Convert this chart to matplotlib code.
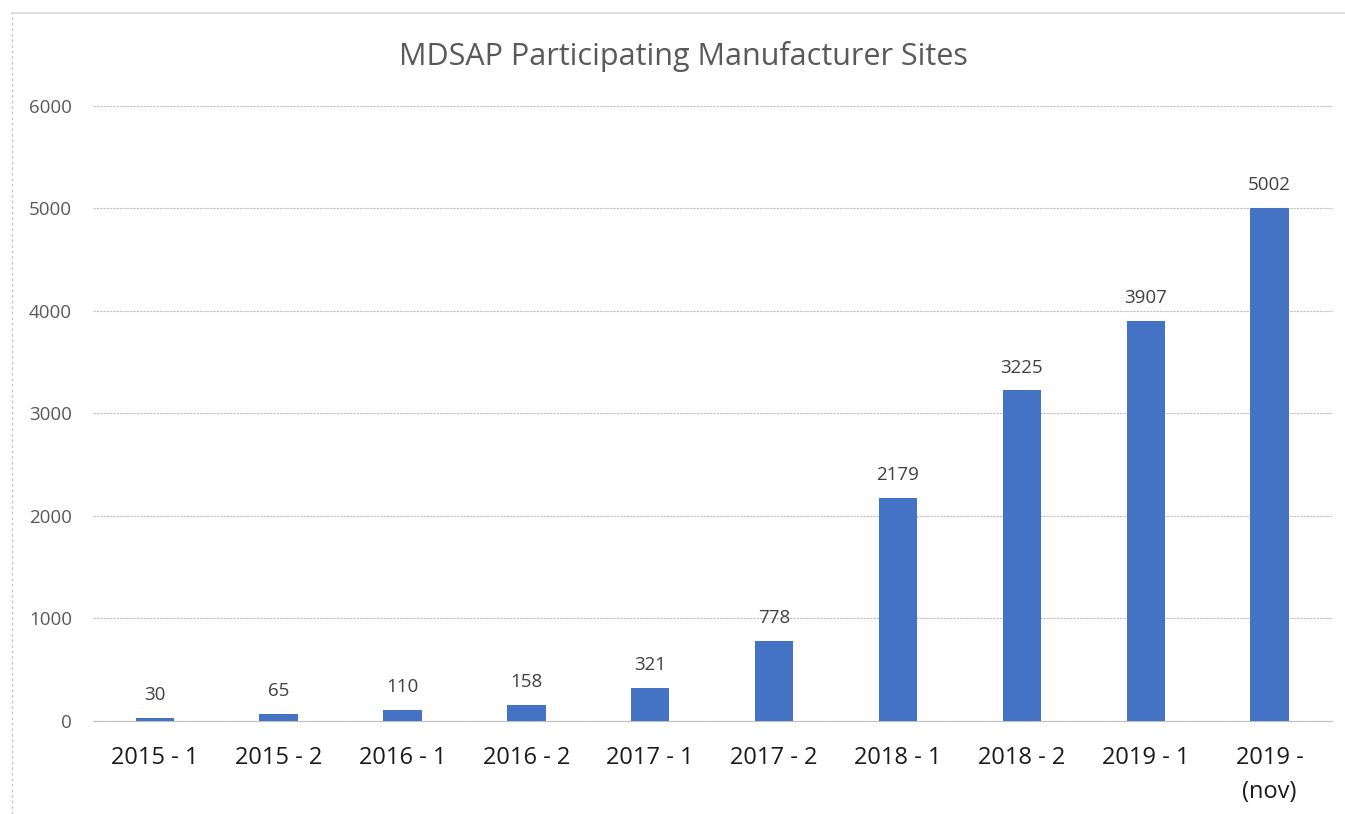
import matplotlib.pyplot as plt
from matplotlib.lines import Line2D

categories = ['2015 - 1', '2015 - 2', '2016 - 1', '2016 - 2', '2017 - 1',
              '2017 - 2', '2018 - 1', '2018 - 2', '2019 - 1', '2019 -\n(nov)']
sites = [30, 65, 110, 158, 321, 778, 2179, 3225, 3907, 5002]
yticks = [0, 1000, 2000, 3000, 4000, 5000, 6000]

plt.rcParams['font.family'] = ['Open Sans', 'DejaVu Sans']

fig = plt.figure(figsize=(13.45, 8.14), dpi=100)
ax = fig.add_axes([0.069, 0.1143, 0.921, 0.7555])

x = list(range(len(categories)))
bars = ax.bar(x, sites, width=0.31, color='#4472C4', zorder=3)
for xi, v in zip(x, sites):
    ax.annotate(str(v), (xi, v), xytext=(0, 10), textcoords='offset points',
                ha='center', va='bottom', fontsize=13.5, color='#404040')

ax.set_xlim(-0.5, len(categories) - 0.5)
ax.set_ylim(0, 6000)
ax.set_yticks(yticks)
ax.set_yticklabels([str(t) for t in yticks], fontsize=13.5, color='#595959')
ax.set_xticks(x)
ax.set_xticklabels(categories, fontsize=17, color='#1a1a1a', linespacing=1.55)
ax.tick_params(axis='both', length=0)
ax.tick_params(axis='y', pad=15)
ax.tick_params(axis='x', pad=18)
for lbl in ax.get_xticklabels():
    lbl.set_verticalalignment('top')

ax.grid(axis='y', color='#bfbfbf', linestyle=(0, (2, 1)), linewidth=0.8, zorder=0)
for s in ['top', 'right', 'left']:
    ax.spines[s].set_visible(False)
ax.spines['bottom'].set_color('#bfbfbf')
ax.spines['bottom'].set_linewidth(0.8)

fig.text(0.508, 0.930, 'MDSAP Participating Manufacturer Sites', ha='center',
         va='center', fontsize=22, color='#595959')

# chart area border
fig.add_artist(Line2D([12 / 1345, 1], [1 - 13 / 814, 1 - 13 / 814],
                      color='#d9d9d9', linewidth=1.2))
fig.add_artist(Line2D([12 / 1345, 12 / 1345], [0, 1 - 13 / 814],
                      color='#c8c8c8', linewidth=1, linestyle=(0, (2, 2))))

fig.savefig('out.png', dpi=100)
